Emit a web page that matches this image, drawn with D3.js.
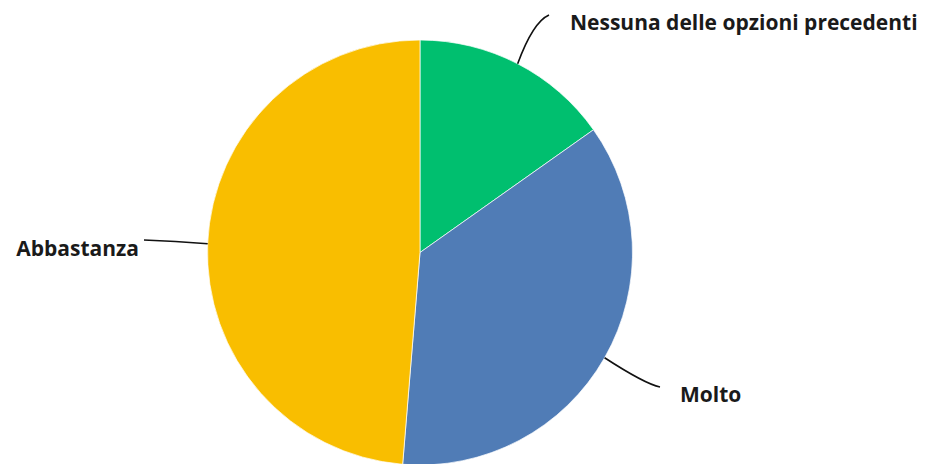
<!DOCTYPE html>
<html><head><meta charset="utf-8">
<script src="https://cdn.jsdelivr.net/npm/d3@7"></script>
<style>body{margin:0;background:#fff}svg{display:block}text{font-family:"Open Sans",sans-serif;font-weight:700;fill:#1a1a1a}</style>
</head><body>
<svg id="c" width="934" height="464"></svg>
<script>
const categories = ["Nessuna delle opzioni precedenti", "Molto", "Abbastanza"];
const values = [15.2, 36.1, 48.7];
const colors = ["#00BF6F", "#507CB6", "#F9BE00"];

const W = 934, H = 464, cx = 420, cy = 252.5, R = 212.5;
const svg = d3.select("#c");
const g = svg.append("g").attr("transform", `translate(${cx},${cy})`);
const pie = d3.pie().sort(null).value(d => d.v);
const data = pie(categories.map((c, i) => ({c, v: values[i], col: colors[i]})));
const arc = d3.arc().innerRadius(0).outerRadius(R);
g.selectAll("path.s").data(data).join("path").attr("class","s")
  .attr("d", arc).attr("fill", d => d.data.col).attr("stroke", "#fff").attr("stroke-width", 0.7);

const labelCfg = [
  {end: [549, 15], ctrl: [533, 22], tx: 570, ty: 30, anchor: "start"},
  {end: [660, 387], ctrl: [645, 384], tx: 680, ty: 402, anchor: "start"},
  {end: [144, 240], ctrl: [175, 241], tx: 139, ty: 256, anchor: "end"}
];
data.forEach((d, i) => {
  const a = (d.startAngle + d.endAngle) / 2;
  const sx = cx + R * Math.sin(a), sy = cy - R * Math.cos(a);
  const L = labelCfg[i];
  const p = d3.path();
  p.moveTo(sx, sy);
  p.quadraticCurveTo(L.ctrl[0], L.ctrl[1], L.end[0], L.end[1]);
  svg.append("path").attr("d", p.toString()).attr("fill", "none").attr("stroke", "#111").attr("stroke-width", 1.6);
  svg.append("text").attr("x", L.tx).attr("y", L.ty).attr("text-anchor", L.anchor)
    .attr("font-size", 21).text(d.data.c);
});
</script>
</body></html>
